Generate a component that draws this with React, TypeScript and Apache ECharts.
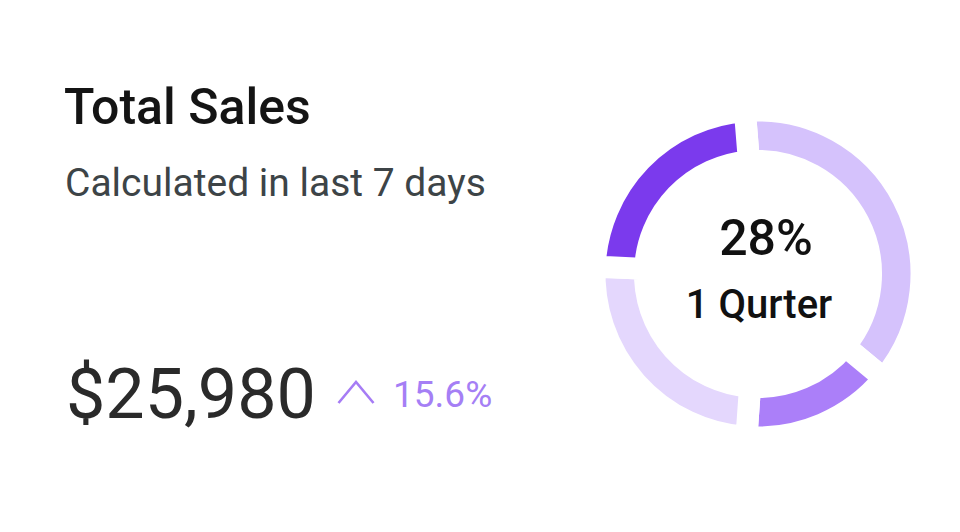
import React, { useEffect, useRef } from "react";
import * as echarts from "echarts";

const segmentNames = ["Segment A", "Segment B", "Segment C", "Segment D"];
const segmentValues = [37.3, 15.1, 24.6, 23.0];
const segmentColors = ["#d5c2fc", "#ab7ff9", "#e4d7fd", "#7b3aed"];

const titleText = "Total Sales";
const subtitleText = "Calculated in last 7 days";
const totalText = "$25,980";
const changeText = "15.6%";
const centerValueText = "28%";
const centerLabelText = "1 Qurter";

const FONT = "Roboto, 'Noto Sans', sans-serif";

export default function App() {
  const ref = useRef<HTMLDivElement>(null);

  useEffect(() => {
    if (!ref.current) return;
    const chart = echarts.init(ref.current, undefined, { renderer: "svg" });
    chart.setOption({
      animation: false,
      backgroundColor: "#ffffff",
      series: [
        {
          type: "pie",
          center: [758, 274],
          radius: [113, 163.5],
          startAngle: 94.6,
          clockwise: true,
          silent: true,
          label: { show: false },
          labelLine: { show: false },
          itemStyle: { borderColor: "#ffffff", borderWidth: 22 },
          emphasis: { disabled: true },
          data: segmentNames.map((n, i) => ({
            name: n,
            value: segmentValues[i],
            itemStyle: { color: segmentColors[i] },
          })),
        },
      ],
      graphic: [
        {
          type: "text",
          x: 64,
          y: 106.5,
          style: {
            text: titleText,
            font: `500 50px ${FONT}`,
            fill: "#141414",
            verticalAlign: "middle",
          },
        },
        {
          type: "text",
          x: 65,
          y: 182.5,
          style: {
            text: subtitleText,
            font: `400 39px ${FONT}`,
            fill: "#3d4447",
            verticalAlign: "middle",
          },
        },
        {
          type: "text",
          x: 66,
          y: 394,
          style: {
            text: totalText,
            font: `400 70px ${FONT}`,
            fill: "#2a2a2a",
            verticalAlign: "middle",
          },
        },
        {
          type: "polyline",
          shape: {
            points: [
              [338.5, 403],
              [356, 382],
              [373.5, 403],
            ],
          },
          style: { stroke: "#a67cf5", lineWidth: 2.6, fill: null },
        },
        {
          type: "text",
          x: 393,
          y: 394,
          style: {
            text: changeText,
            font: `400 37px ${FONT}`,
            fill: "#a57ff5",
            verticalAlign: "middle",
          },
        },
        {
          type: "text",
          x: 766,
          y: 238,
          style: {
            text: centerValueText,
            font: `500 50px ${FONT}`,
            fill: "#111111",
            align: "center",
            verticalAlign: "middle",
          },
        },
        {
          type: "text",
          x: 759,
          y: 304,
          style: {
            text: centerLabelText,
            font: `500 40px ${FONT}`,
            fill: "#111111",
            align: "center",
            verticalAlign: "middle",
          },
        },
      ],
    });
    return () => chart.dispose();
  }, []);

  return (
    <div
      ref={ref}
      style={{ position: "fixed", left: 0, top: 0, width: 960, height: 532 }}
    />
  );
}
